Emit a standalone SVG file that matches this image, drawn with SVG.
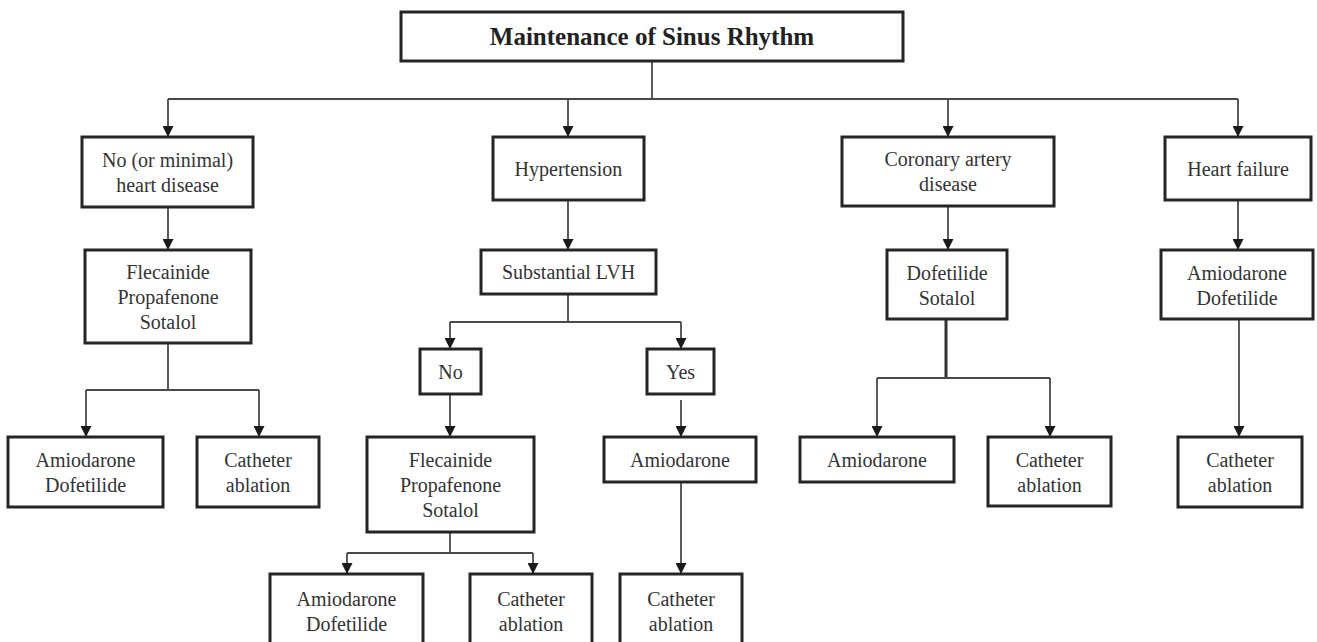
<svg xmlns="http://www.w3.org/2000/svg" width="1317" height="642" viewBox="0 0 1317 642">
<style>
  .box { fill: #ffffff; stroke: #252525; stroke-width: 3; }
  .t { font-family: "Liberation Serif", "Times New Roman", serif; font-size: 20px; fill: #333333; text-anchor: middle; }
  .title { font-family: "Liberation Serif", "Times New Roman", serif; font-size: 25px; font-weight: bold; fill: #222222; text-anchor: middle; }
  .c { fill: none; stroke: #4a4a4a; stroke-width: 1.8; }
  .a { fill: none; stroke: #4a4a4a; stroke-width: 1.8; marker-end: url(#ah); }
  .thick { stroke-width: 3; stroke: #333333; }
</style>
<defs>
  <marker id="ah" markerUnits="userSpaceOnUse" markerWidth="11" markerHeight="11" viewBox="0 0 10 10" refX="10" refY="5" orient="auto">
    <path d="M0,0 L10,5 L0,10 z" fill="#1a1a1a"/>
  </marker>
</defs>
<rect width="1317" height="642" fill="#ffffff"/>

<g id="connectors">
  <path class="c" d="M652,61 V99"/>
  <path class="c" d="M168,99 H1238"/>
  <path class="a" d="M168,99 V137"/>
  <path class="a" d="M568,99 V137"/>
  <path class="a" d="M948,99 V137"/>
  <path class="a" d="M1238,99 V137"/>

  <path class="a" d="M168,207 V250"/>
  <path class="a" d="M568,200 V250"/>
  <path class="a" d="M948,206 V250"/>
  <path class="a" d="M1238,200 V250"/>

  <path class="c" d="M168,343 V390"/>
  <path class="c" d="M86,390 H259"/>
  <path class="a" d="M86,390 V437"/>
  <path class="a" d="M259,390 V437"/>

  <path class="c" d="M568,294 V322"/>
  <path class="c" d="M450,322 H681"/>
  <path class="a" d="M450,322 V349"/>
  <path class="a" d="M681,322 V349"/>

  <path class="a" d="M450,394 V437"/>
  <path class="a" d="M681,400 V437"/>

  <path class="c" d="M450,532 V553"/>
  <path class="c" d="M347,553 H533"/>
  <path class="a" d="M347,553 V574"/>
  <path class="a" d="M533,553 V574"/>
  <path class="a" d="M681,482 V574"/>

  <path class="c thick" d="M946,319 V378"/>
  <path class="c" d="M877,378 H1050"/>
  <path class="a" d="M877,378 V437"/>
  <path class="a" d="M1050,378 V437"/>

  <path class="a" d="M1239,319 V437"/>
</g>

<g id="n-root">
  <rect class="box" x="401" y="12" width="502" height="49"/>
  <text class="title" x="652" y="45">Maintenance of Sinus Rhythm</text>
</g>

<g id="n-minimal">
  <rect class="box" x="82" y="137" width="171" height="70"/>
  <text class="t" x="167.5" y="167">No (or minimal)</text>
  <text class="t" x="167.5" y="192">heart disease</text>
</g>
<g id="n-hypertension">
  <rect class="box" x="493" y="137" width="151" height="63"/>
  <text class="t" x="568.5" y="176">Hypertension</text>
</g>
<g id="n-cad">
  <rect class="box" x="842" y="137" width="212" height="69"/>
  <text class="t" x="948" y="166">Coronary artery</text>
  <text class="t" x="948" y="191">disease</text>
</g>
<g id="n-hf">
  <rect class="box" x="1165" y="137" width="146" height="63"/>
  <text class="t" x="1238" y="176">Heart failure</text>
</g>

<g id="n-fps1">
  <rect class="box" x="85" y="250" width="166" height="93"/>
  <text class="t" x="168" y="279">Flecainide</text>
  <text class="t" x="168" y="304">Propafenone</text>
  <text class="t" x="168" y="329">Sotalol</text>
</g>
<g id="n-lvh">
  <rect class="box" x="481" y="250" width="175" height="44"/>
  <text class="t" x="568.5" y="279">Substantial LVH</text>
</g>
<g id="n-ds">
  <rect class="box" x="887" y="250" width="120" height="69"/>
  <text class="t" x="947" y="280">Dofetilide</text>
  <text class="t" x="947" y="305">Sotalol</text>
</g>
<g id="n-ad-hf">
  <rect class="box" x="1161" y="250" width="152" height="69"/>
  <text class="t" x="1237" y="280">Amiodarone</text>
  <text class="t" x="1237" y="305">Dofetilide</text>
</g>

<g id="n-ad1">
  <rect class="box" x="8" y="437" width="155" height="70"/>
  <text class="t" x="85.5" y="467">Amiodarone</text>
  <text class="t" x="85.5" y="492">Dofetilide</text>
</g>
<g id="n-ca1">
  <rect class="box" x="197" y="437" width="122" height="70"/>
  <text class="t" x="258" y="467">Catheter</text>
  <text class="t" x="258" y="492">ablation</text>
</g>
<g id="n-no">
  <rect class="box" x="420" y="349" width="61" height="45"/>
  <text class="t" x="450.5" y="379">No</text>
</g>
<g id="n-yes">
  <rect class="box" x="647" y="349" width="67" height="45"/>
  <text class="t" x="680.5" y="379">Yes</text>
</g>
<g id="n-fps2">
  <rect class="box" x="367" y="437" width="167" height="95"/>
  <text class="t" x="450.5" y="467">Flecainide</text>
  <text class="t" x="450.5" y="492">Propafenone</text>
  <text class="t" x="450.5" y="517">Sotalol</text>
</g>
<g id="n-amio-yes">
  <rect class="box" x="604" y="437" width="152" height="45"/>
  <text class="t" x="680" y="467">Amiodarone</text>
</g>
<g id="n-ad3">
  <rect class="box" x="270" y="574" width="153" height="80"/>
  <text class="t" x="346.5" y="606">Amiodarone</text>
  <text class="t" x="346.5" y="631">Dofetilide</text>
</g>
<g id="n-ca2">
  <rect class="box" x="470" y="574" width="122" height="80"/>
  <text class="t" x="531" y="606">Catheter</text>
  <text class="t" x="531" y="631">ablation</text>
</g>
<g id="n-ca3">
  <rect class="box" x="620" y="574" width="122" height="80"/>
  <text class="t" x="681" y="606">Catheter</text>
  <text class="t" x="681" y="631">ablation</text>
</g>
<g id="n-amio-cad">
  <rect class="box" x="800" y="437" width="154" height="45"/>
  <text class="t" x="877" y="467">Amiodarone</text>
</g>
<g id="n-ca-cad">
  <rect class="box" x="988" y="437" width="123" height="69"/>
  <text class="t" x="1049.5" y="467">Catheter</text>
  <text class="t" x="1049.5" y="492">ablation</text>
</g>
<g id="n-ca-hf">
  <rect class="box" x="1178" y="437" width="124" height="70"/>
  <text class="t" x="1240" y="467">Catheter</text>
  <text class="t" x="1240" y="492">ablation</text>
</g>
</svg>
